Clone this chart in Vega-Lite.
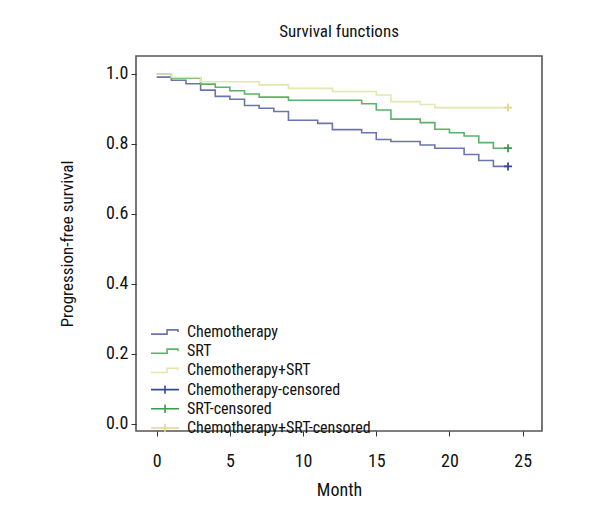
{
  "$schema": "https://vega.github.io/schema/vega-lite/v6.json",
  "width": 406,
  "height": 375,
  "autosize": {"type": "none"},
  "padding": {"left": 136, "top": 56, "right": 58, "bottom": 89},
  "background": "white",
  "title": {"text": "Survival functions", "fontSize": 17, "fontWeight": "normal", "font": "Roboto Condensed, Lato, sans-serif", "color": "#111", "anchor": "middle", "offset": 15},
  "config": {
    "view": {"stroke": "#555", "strokeWidth": 1.6},
    "axis": {"grid": false, "domain": false, "tickColor": "#333", "tickSize": 5, "labelFont": "Roboto Condensed, Lato, sans-serif", "titleFont": "Roboto Condensed, Lato, sans-serif", "labelFontSize": 18, "titleFontSize": 18, "titleFontWeight": "normal", "labelColor": "#111", "titleColor": "#111"},
    "legend": {"labelFont": "Roboto Condensed, Lato, sans-serif", "labelFontSize": 16, "labelColor": "#111", "labelLimit": 400}
  },
  "datasets": {
    "curves": [
      {"g": "Chemotherapy", "m": 0, "s": 0.991},
      {"g": "Chemotherapy", "m": 1, "s": 0.982},
      {"g": "Chemotherapy", "m": 2, "s": 0.972},
      {"g": "Chemotherapy", "m": 3, "s": 0.954},
      {"g": "Chemotherapy", "m": 4, "s": 0.936},
      {"g": "Chemotherapy", "m": 5, "s": 0.928},
      {"g": "Chemotherapy", "m": 6, "s": 0.910},
      {"g": "Chemotherapy", "m": 7, "s": 0.902},
      {"g": "Chemotherapy", "m": 8, "s": 0.893},
      {"g": "Chemotherapy", "m": 9, "s": 0.868},
      {"g": "Chemotherapy", "m": 11, "s": 0.859},
      {"g": "Chemotherapy", "m": 12, "s": 0.841},
      {"g": "Chemotherapy", "m": 14, "s": 0.832},
      {"g": "Chemotherapy", "m": 15, "s": 0.813},
      {"g": "Chemotherapy", "m": 16, "s": 0.807},
      {"g": "Chemotherapy", "m": 18, "s": 0.797},
      {"g": "Chemotherapy", "m": 19, "s": 0.788},
      {"g": "Chemotherapy", "m": 21, "s": 0.770},
      {"g": "Chemotherapy", "m": 22, "s": 0.753},
      {"g": "Chemotherapy", "m": 23, "s": 0.736},
      {"g": "Chemotherapy", "m": 24, "s": 0.736},
      {"g": "SRT", "m": 0, "s": 1.0},
      {"g": "SRT", "m": 1, "s": 0.988},
      {"g": "SRT", "m": 3, "s": 0.971},
      {"g": "SRT", "m": 4, "s": 0.962},
      {"g": "SRT", "m": 5, "s": 0.952},
      {"g": "SRT", "m": 6, "s": 0.943},
      {"g": "SRT", "m": 7, "s": 0.934},
      {"g": "SRT", "m": 9, "s": 0.925},
      {"g": "SRT", "m": 14, "s": 0.915},
      {"g": "SRT", "m": 15, "s": 0.897},
      {"g": "SRT", "m": 16, "s": 0.871},
      {"g": "SRT", "m": 18, "s": 0.861},
      {"g": "SRT", "m": 19, "s": 0.842},
      {"g": "SRT", "m": 20, "s": 0.832},
      {"g": "SRT", "m": 21, "s": 0.823},
      {"g": "SRT", "m": 22, "s": 0.804},
      {"g": "SRT", "m": 23, "s": 0.788},
      {"g": "SRT", "m": 24, "s": 0.788},
      {"g": "Chemotherapy+SRT", "m": 0, "s": 1.0},
      {"g": "Chemotherapy+SRT", "m": 1, "s": 0.99},
      {"g": "Chemotherapy+SRT", "m": 3, "s": 0.978},
      {"g": "Chemotherapy+SRT", "m": 7, "s": 0.969},
      {"g": "Chemotherapy+SRT", "m": 9, "s": 0.959},
      {"g": "Chemotherapy+SRT", "m": 12, "s": 0.950},
      {"g": "Chemotherapy+SRT", "m": 15, "s": 0.940},
      {"g": "Chemotherapy+SRT", "m": 16, "s": 0.921},
      {"g": "Chemotherapy+SRT", "m": 18, "s": 0.913},
      {"g": "Chemotherapy+SRT", "m": 19, "s": 0.904},
      {"g": "Chemotherapy+SRT", "m": 24, "s": 0.904}
    ],
    "censored": [
      {"g": "Chemotherapy-censored", "m": 24, "s": 0.736},
      {"g": "SRT-censored", "m": 24, "s": 0.788},
      {"g": "Chemotherapy+SRT-censored", "m": 24, "s": 0.904}
    ]
  },
  "encoding": {
    "x": {"field": "m", "type": "quantitative", "title": "Month",
      "scale": {"domain": [-1.414, 26.32], "nice": false, "zero": false},
      "axis": {"values": [0, 5, 10, 15, 20, 25], "labelPadding": 16, "titlePadding": 11}},
    "y": {"field": "s", "type": "quantitative", "title": "Progression-free survival",
      "scale": {"domain": [-0.02, 1.0514], "nice": false, "zero": false},
      "axis": {"values": [0, 0.2, 0.4, 0.6, 0.8, 1.0], "format": ".1f", "labelPadding": 3, "titleX": -69, "titleBaseline": "middle", "titleFontSize": 17}},
    "color": {"field": "g", "type": "nominal", "title": null,
      "scale": {"domain": ["Chemotherapy", "SRT", "Chemotherapy+SRT", "Chemotherapy-censored", "SRT-censored", "Chemotherapy+SRT-censored"],
        "range": ["#6b74ad", "#5cb26a", "#e2e6b0", "#34489a", "#3a9c48", "#e6d68c"]},
      "legend": {"orient": "none", "legendX": 21, "legendY": 268, "rowPadding": 3.2, "symbolSize": 49, "labelOffset": 14, "padding": 0,
        "encode": {"symbols": {"update": {
          "shape": {"signal": "indexof(datum.value, 'censored') >= 0 ? 'M-4,0H4M0,-1.2V1.2' : 'M-4,0.6H0.6V-0.6H3.7V0'"},
          "fill": {"value": "transparent"},
          "strokeWidth": {"value": 1.6},
          "opacity": {"value": 1}
        }}}}}
  },
  "layer": [
    {"data": {"name": "curves"}, "mark": {"type": "line", "interpolate": "step-after", "strokeWidth": 1.6}},
    {"data": {"name": "censored"}, "mark": {"type": "point", "shape": "M-1,0H1M0,-1V1", "size": 64, "filled": false, "strokeWidth": 1.8, "opacity": 1}}
  ]
}
